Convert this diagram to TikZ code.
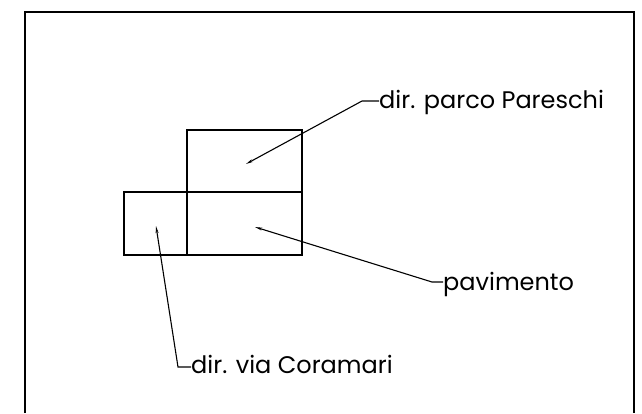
\documentclass[tikz,border=0pt]{standalone}
\usepackage{fontspec}
\setmainfont{Poppins}
\usetikzlibrary{arrows.meta, positioning}

\begin{document}
\begin{tikzpicture}[x=1pt, y=-1pt,
    every node/.style={font=\fontsize{24}{28}\selectfont, inner sep=0pt, anchor=base west},
    slab/.style={line width=1.4pt},
    leader/.style={-{Stealth[length=7pt, width=2.8pt]}, line width=1.1pt}]
  \useasboundingbox (0,0) rectangle (642,413);

  % Frame
  \draw[line width=1.8pt] (25,413) -- (25,12) -- (634,12) -- (634,413);

  % Slabs
  \draw[slab] (187,130) rectangle (302,192);
  \draw[slab] (187,192) rectangle (302,255);
  \draw[slab] (124,192) rectangle (187,255);

  % Labels
  \node (parco) at (379,108) {dir. parco Pareschi};
  \node (pavim) at (443,290) {pavimento};
  \node (coram) at (191,373) {dir. via Coramari};

  % Leader knees and tips
  \coordinate (parcoknee) at (362,101);
  \coordinate (parcotip) at (246,164);
  \coordinate (pavimknee) at (432,282);
  \coordinate (pavimtip) at (255,227);
  \coordinate (coramknee) at (178,367);
  \coordinate (coramtip) at (156,226);

  % Leaders
  \draw[leader] (parcoknee -| parco.west) -- (parcoknee) -- (parcotip);
  \draw[leader] (pavimknee -| pavim.west) -- (pavimknee) -- (pavimtip);
  \draw[leader] (coramknee -| coram.west) -- (coramknee) -- (coramtip);
\end{tikzpicture}
\end{document}
